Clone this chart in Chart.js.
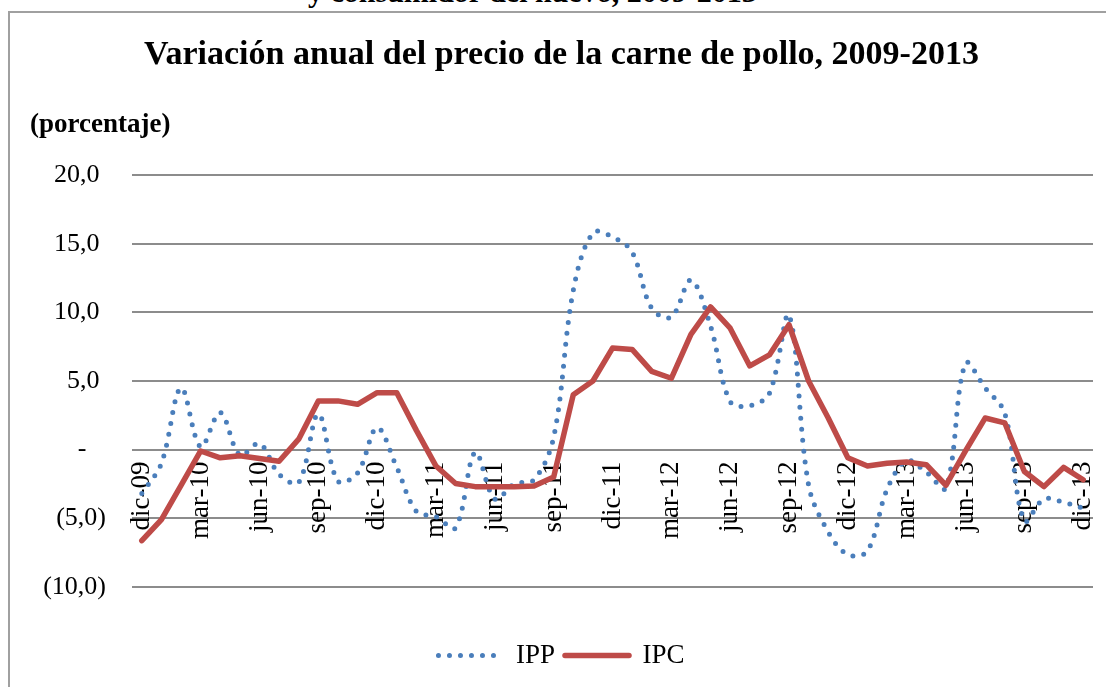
<!DOCTYPE html>
<html>
<head>
<meta charset="utf-8">
<script src="https://cdn.jsdelivr.net/npm/chart.js@4.4.1/dist/chart.umd.min.js"></script>
<style>
  html, body { margin: 0; padding: 0; background: #fff; overflow: hidden; }
  #wrap { position: relative; width: 1106px; height: 687px; }
  #frame {
    position: absolute; left: 8px; top: 11px; width: 1200px; height: 800px;
    border-top: 2px solid #a0a0a0; border-left: 2px solid #a0a0a0;
  }
  #prev {
    position: absolute; left: 308px; top: -23px; white-space: nowrap;
    font: bold 30px/30px "Liberation Serif", serif; color: #000;
  }
  #chart { position: absolute; left: 0; top: 0; }
</style>
</head>
<body>
<div id="wrap">
  <div id="prev">y consumidor del huevo, 2009-2013</div>
  <div id="frame"></div>
  <canvas id="chart" width="1106" height="687"></canvas>
</div>
<script>
// Months, dic-09 .. dic-13
const months = [
  'dic-09',
  'ene-10', 'feb-10', 'mar-10', 'abr-10', 'may-10', 'jun-10', 'jul-10', 'ago-10', 'sep-10', 'oct-10', 'nov-10', 'dic-10',
  'ene-11', 'feb-11', 'mar-11', 'abr-11', 'may-11', 'jun-11', 'jul-11', 'ago-11', 'sep-11', 'oct-11', 'nov-11', 'dic-11',
  'ene-12', 'feb-12', 'mar-12', 'abr-12', 'may-12', 'jun-12', 'jul-12', 'ago-12', 'sep-12', 'oct-12', 'nov-12', 'dic-12',
  'ene-13', 'feb-13', 'mar-13', 'abr-13', 'may-13', 'jun-13', 'jul-13', 'ago-13', 'sep-13', 'oct-13', 'nov-13', 'dic-13'
];

// Productor (dotted, smoothed)
const ipp = [
  -3.2,
  -1.0, 4.5, 0.2, 2.7, -0.4, 0.45, -1.8, -2.4, 2.6, -2.3, -1.7, 1.6,
  -1.3, -4.5, -4.9, -5.7, -0.2, -3.6, -2.5, -2.2, 0.9, 11.6, 15.8, 15.5,
  14.4, 10.3, 9.65, 12.35, 9.0, 3.5, 3.2, 4.1, 9.8, -2.6, -6.0, -7.65,
  -7.4, -2.9, -0.8, -1.65, -2.8, 6.3, 4.5, 2.65, -5.2, -3.6, -3.85, -4.26
];

// Consumidor (solid)
const ipc = [
  -6.64,
  -5.1, -2.6, -0.1, -0.6, -0.45, -0.65, -0.85, 0.76, 3.55, 3.55, 3.3, 4.15,
  4.15, 1.4, -1.2, -2.47, -2.7, -2.7, -2.7, -2.65, -2.0, 4.0, 5.0, 7.4,
  7.3, 5.7, 5.2, 8.4, 10.4, 8.85, 6.1, 6.9, 9.1, 5.0, 2.3, -0.6,
  -1.2, -1.0, -0.9, -1.1, -2.6, -0.1, 2.3, 1.95, -1.6, -2.7, -1.3, -2.2
];

const yTicks = [-10, -5, 0, 5, 10, 15, 20];

const serif = '"Liberation Serif", "Times New Roman", serif';
Chart.defaults.color = '#000';
Chart.defaults.font.family = serif;

function fmtPct(v) {
  if (v === 0) return '-   ';
  const s = Math.abs(v).toFixed(1).replace('.', ',');
  return v < 0 ? '(' + s + ')' : s + ' ';
}

// legend samples should look like the series lines (dots / solid)
function legendItems(chart) {
  const items = Chart.defaults.plugins.legend.labels.generateLabels(chart);
  items.forEach(it => {
    const ds = chart.data.datasets[it.datasetIndex];
    it.lineDash = ds.borderDash || [];
    it.lineCap = ds.borderCapStyle;
    it.lineWidth = ds.borderWidth;
    it.strokeStyle = ds.borderColor;
  });
  return items;
}

const ctx = document.getElementById('chart').getContext('2d');
new Chart(ctx, {
  type: 'line',
  data: {
    labels: months,
    datasets: [
      {
        label: 'IPP',
        data: ipp,
        borderColor: '#4a7ebb',
        backgroundColor: '#4a7ebb',
        borderWidth: 5,
        borderDash: [0, 11],
        borderCapStyle: 'round',
        tension: 0.35,
        pointRadius: 0,
        fill: false,
        order: 1
      },
      {
        label: 'IPC',
        data: ipc,
        borderColor: '#be4b48',
        backgroundColor: '#be4b48',
        borderWidth: 5.5,
        borderJoinStyle: 'round',
        borderCapStyle: 'round',
        tension: 0,
        pointRadius: 0,
        fill: false,
        order: 0
      }
    ]
  },
  options: {
    responsive: false,
    animation: false,
    layout: { padding: { left: 30, right: 13, top: 0, bottom: 8 } },
    plugins: {
      tooltip: { enabled: false },
      title: {
        display: true,
        text: 'Variación anual del precio de la carne de pollo, 2009-2013',
        font: { family: serif, size: 34, weight: 'bold' },
        padding: { top: 35, bottom: 33 }
      },
      subtitle: {
        display: true,
        text: '(porcentaje)',
        align: 'start',
        font: { family: serif, size: 27, weight: 'bold' },
        padding: { top: 0, bottom: 34 }
      },
      legend: {
        display: true,
        position: 'bottom',
        title: { display: true, text: ' ', font: { size: 1 }, padding: { top: 0, bottom: 44 } },
        labels: {
          usePointStyle: true,
          pointStyle: 'line',
          pointStyleWidth: 64,
          font: { family: serif, size: 27 },
          padding: 10,
          generateLabels: legendItems,
          sort: (a, b) => a.datasetIndex - b.datasetIndex
        }
      }
    },
    scales: {
      x: {
        position: { y: 0 },
        offset: true,
        afterFit: (scale) => { scale.paddingLeft = 0; scale.paddingRight = 0; },
        grid: { display: false, drawTicks: false },
        border: { display: false },
        ticks: {
          autoSkip: false,
          minRotation: 90,
          maxRotation: 90,
          padding: 12,
          font: { family: serif, size: 27 },
          callback: function (value, index) {
            return index % 3 === 0 ? this.getLabelForValue(value) : null;
          }
        }
      },
      y: {
        min: -10,
        max: 20,
        afterBuildTicks: (scale) => { scale.ticks = yTicks.map(v => ({ value: v })); },
        afterFit: (scale) => { scale.width = 102; },
        grid: { color: '#8c8c8c', lineWidth: 2, drawTicks: false },
        border: { display: false },
        ticks: {
          padding: 26,
          font: { family: serif, size: 26 },
          callback: (v) => fmtPct(v)
        }
      }
    }
  }
});
</script>
</body>
</html>
